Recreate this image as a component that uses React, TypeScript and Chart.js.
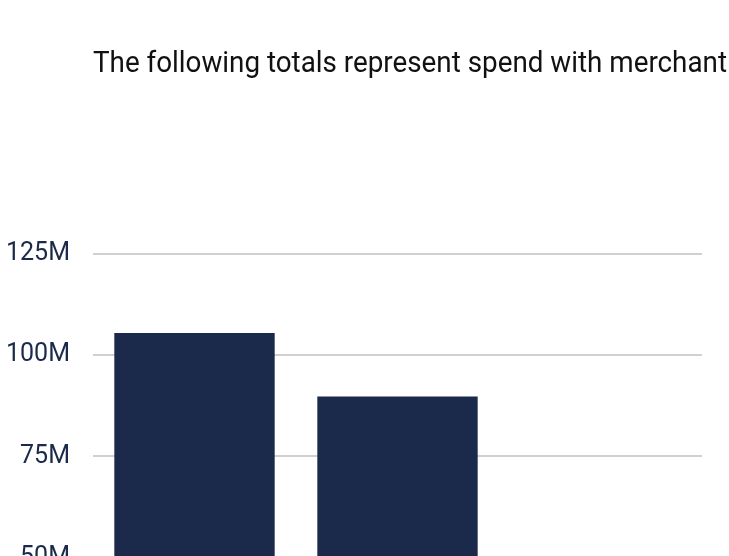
import React, { useEffect, useRef } from "react";
import { Chart, registerables } from "chart.js";

Chart.register(...registerables);

const categories = ["A", "B", "C"];
const spendValues = [105500000, 89800000, 30000000];
const titleText = "The following totals represent spend with merchant";
const yMin = 0;
const yMax = 125000000;
const yStep = 25000000;

const leftTitlePlugin = {
  id: "leftTitle",
  afterDraw(chart: any) {
    const { ctx, chartArea } = chart;
    ctx.save();
    ctx.font = "30px Roboto";
    ctx.fillStyle = "#111111";
    ctx.textAlign = "left";
    ctx.textBaseline = "alphabetic";
    const w = ctx.measureText(titleText).width;
    const maxW = 634;
    const sx = w > maxW ? maxW / w : 1;
    ctx.translate(chartArea.left, 64);
    ctx.scale(sx, 1);
    ctx.fillText(titleText, 0, 0);
    ctx.restore();
  },
};

export default function App() {
  const ref = useRef<HTMLCanvasElement | null>(null);

  useEffect(() => {
    if (!ref.current) return;
    const chart = new Chart(ref.current, {
      type: "bar",
      data: {
        labels: categories,
        datasets: [
          {
            label: "Spend",
            data: spendValues,
            backgroundColor: "#1b2a4a",
            borderWidth: 0,
            barPercentage: 1,
            categoryPercentage: 0.79,
          },
        ],
      },
      plugins: [leftTitlePlugin],
      options: {
        animation: false,
        responsive: true,
        maintainAspectRatio: false,
        layout: { padding: { right: 46, top: 246, left: 0, bottom: 0 } },
        plugins: {
          legend: { display: false },
          tooltip: { enabled: false },
          title: { display: false },
        },
        scales: {
          x: {
            grid: { display: false },
            border: { display: false },
            ticks: {
              color: "#1b2a4a",
              maxRotation: 0,
              font: { family: "Roboto", size: 24 },
            },
          },
          y: {
            min: yMin,
            max: yMax,
            border: { display: false },
            grid: { color: "#d0d0d0", lineWidth: 2, drawTicks: false },
            afterFit: (s: any) => {
              s.width = 85;
            },
            ticks: {
              stepSize: yStep,
              padding: 23,
              color: "#1b2a4a",
              font: { family: "Roboto", size: 25 },
              callback: (v: any) => Number(v) / 1000000 + "M",
            },
          },
        },
      },
    });
    return () => chart.destroy();
  }, []);

  return (
    <div
      style={{
        position: "absolute",
        left: 8,
        top: 8,
        width: 721,
        height: 548,
        overflow: "hidden",
      }}
    >
      <div style={{ position: "relative", width: 740, height: 795 }}>
        <canvas ref={ref} />
      </div>
    </div>
  );
}
